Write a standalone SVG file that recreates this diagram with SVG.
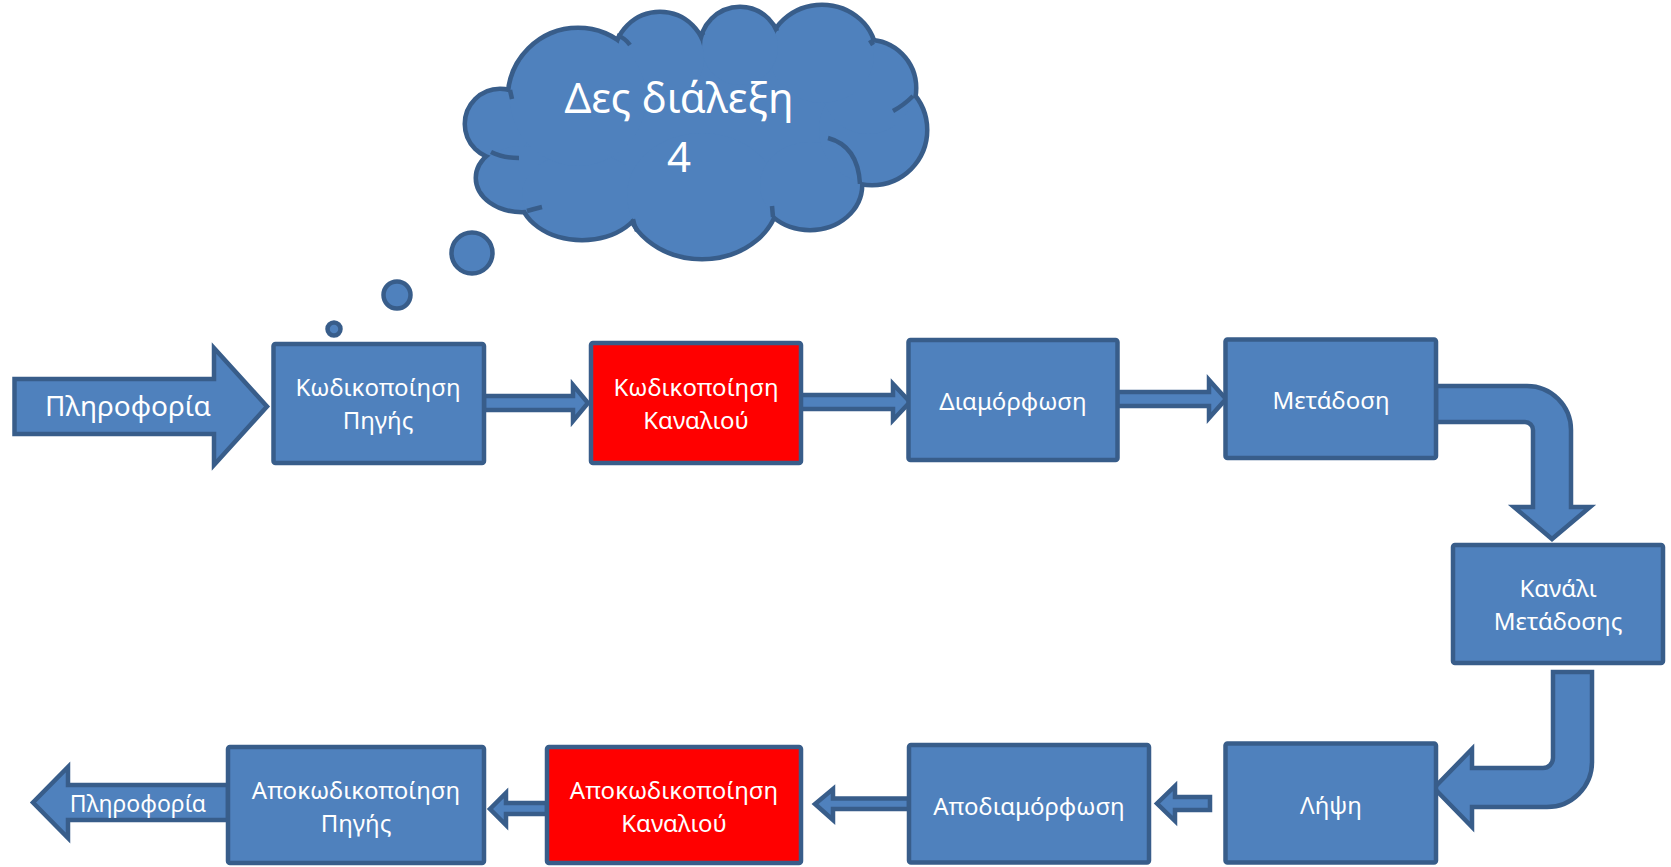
<svg xmlns="http://www.w3.org/2000/svg" width="1671" height="867" viewBox="0 0 1671 867">
<style>
.blk{fill:#4F81BD;stroke:#385D8A;stroke-width:4.5;stroke-linejoin:miter}
.box{fill:#4F81BD;stroke:#385D8A;stroke-width:4.5}
.red{fill:#FF0000;stroke:#385D8A;stroke-width:4.5}
.t{font-family:"Noto Sans","Open Sans","DejaVu Sans",sans-serif;font-size:24px;fill:#FFFFFF;text-anchor:middle}
.cs{fill:#4F81BD;stroke:#385D8A;stroke-width:9}
.cf{fill:#4F81BD}
.seam{fill:none;stroke:#385D8A;stroke-width:4.5;stroke-linecap:butt}
</style>
<rect width="1671" height="867" fill="#FFFFFF"/>

<g id="connectors">
<path class="blk" d="M14.5,379 L214,379 L214,348 L267,406.5 L214,465 L214,434 L14.5,434 Z"/>
<path class="blk" d="M484,396 L573,396 L573,385 L588,403 L573,421 L573,410 L484,410 Z"/>
<path class="blk" d="M800,395 L893,395 L893,384 L910,402 L893,420 L893,409 L800,409 Z"/>
<path class="blk" d="M1117,392 L1209,392 L1209,380 L1226,399 L1209,418 L1209,406 L1117,406 Z"/>
<path class="blk" d="M1436,386 L1527,386 A44,44 0 0 1 1571,430 L1571,507 L1590,507 L1552,539 L1514,507 L1533,507 L1533,430 A8,8 0 0 0 1525,422 L1436,422 Z"/>
<path class="blk" d="M1553,672 L1592,672 L1592,762 A45,45 0 0 1 1547,807 L1472,807 L1472,827 L1434,788 L1472,749 L1472,768 L1543,768 A10,10 0 0 0 1553,758 Z"/>
<path class="blk" d="M1210,797 L1175,797 L1175,786 L1157,803.5 L1175,821 L1175,810 L1210,810 Z"/>
<path class="blk" d="M909,798.5 L833,798.5 L833,789 L815,804 L833,820 L833,809 L909,809 Z"/>
<path class="blk" d="M547,803 L506,803 L506,793 L490,809 L506,825 L506,814 L547,814 Z"/>
<path class="blk" d="M228,785 L68,785 L68,767 L33,802.5 L68,838 L68,820 L228,820 Z"/>
</g>

<g id="in-label"><text class="t" x="128" y="416" style="font-size:28px">Πληροφορία</text></g>
<g id="out-label"><text class="t" x="138" y="812" style="font-size:23px">Πληροφορία</text></g>

<g id="src-enc">
<rect class="box" x="273.5" y="344" width="210.5" height="119" rx="2"/>
<text class="t" x="378" y="396">Κωδικοποίηση</text>
<text class="t" x="378" y="429">Πηγής</text>
</g>
<g id="ch-enc">
<rect class="red" x="591" y="343" width="210" height="120" rx="2"/>
<text class="t" x="696" y="396">Κωδικοποίηση</text>
<text class="t" x="696" y="429">Καναλιού</text>
</g>
<g id="mod">
<rect class="box" x="908.5" y="340" width="209" height="120" rx="2"/>
<text class="t" x="1013" y="410">Διαμόρφωση</text>
</g>
<g id="tx">
<rect class="box" x="1225.5" y="339.5" width="210.5" height="118.5" rx="2"/>
<text class="t" x="1331" y="409">Μετάδοση</text>
</g>
<g id="channel">
<rect class="box" x="1453" y="545" width="210" height="118" rx="2"/>
<text class="t" x="1558" y="597">Κανάλι</text>
<text class="t" x="1558" y="630">Μετάδοσης</text>
</g>
<g id="rx">
<rect class="box" x="1225.5" y="743.5" width="210.5" height="119" rx="2"/>
<text class="t" x="1331" y="814">Λήψη</text>
</g>
<g id="demod">
<rect class="box" x="909" y="745" width="240" height="117.5" rx="2"/>
<text class="t" x="1029" y="815">Αποδιαμόρφωση</text>
</g>
<g id="ch-dec">
<rect class="red" x="547" y="747" width="254" height="116" rx="2"/>
<text class="t" x="674" y="799">Αποκωδικοποίηση</text>
<text class="t" x="674" y="832">Καναλιού</text>
</g>
<g id="src-dec">
<rect class="box" x="228" y="747" width="256" height="116" rx="2"/>
<text class="t" x="356" y="799">Αποκωδικοποίηση</text>
<text class="t" x="356" y="832">Πηγής</text>
</g>

<g id="thought">
<circle cx="472" cy="253" r="20.5" fill="#4F81BD" stroke="#385D8A" stroke-width="4.5"/>
<circle cx="397" cy="295" r="13.5" fill="#4F81BD" stroke="#385D8A" stroke-width="4.5"/>
<circle cx="334" cy="329" r="6.5" fill="#4F81BD" stroke="#385D8A" stroke-width="4.5"/>
</g>

<g id="cloud">
<g class="cs">
<circle cx="500" cy="124" r="33"/>
<ellipse cx="522" cy="178" rx="44" ry="32"/>
<ellipse cx="582" cy="195" rx="60" ry="43"/>
<ellipse cx="702" cy="195" rx="75" ry="62"/>
<ellipse cx="810" cy="185" rx="50" ry="43"/>
<circle cx="872" cy="130" r="53"/>
<circle cx="868" cy="88" r="46"/>
<ellipse cx="822" cy="55" rx="52" ry="48"/>
<circle cx="740" cy="47" r="38"/>
<circle cx="660" cy="58" r="44"/>
<circle cx="578" cy="98" r="68"/>
</g>
<g class="cf">
<ellipse cx="695" cy="135" rx="170" ry="80"/>
<polygon points="500,124 522,178 582,195 702,195 810,185 872,130 868,88 822,55 740,47 660,58 578,98"/>
<circle cx="500" cy="124" r="33"/>
<ellipse cx="522" cy="178" rx="44" ry="32"/>
<ellipse cx="582" cy="195" rx="60" ry="43"/>
<ellipse cx="702" cy="195" rx="75" ry="62"/>
<ellipse cx="810" cy="185" rx="50" ry="43"/>
<circle cx="872" cy="130" r="53"/>
<circle cx="868" cy="88" r="46"/>
<ellipse cx="822" cy="55" rx="52" ry="48"/>
<circle cx="740" cy="47" r="38"/>
<circle cx="660" cy="58" r="44"/>
<circle cx="578" cy="98" r="68"/>
</g>
<path class="seam" d="M510,90 L512,99"/>
<path class="seam" d="M491,152 Q503,158 519,158"/>
<path class="seam" d="M527,211 Q534,209 542,207"/>
<path class="seam" d="M633,219 Q634,225 637,231"/>
<path class="seam" d="M772,206 L773,217"/>
<path class="seam" d="M828,138 Q858,146 860,184"/>
<path class="seam" d="M893,111 Q904,105 913,96"/>
<path class="seam" d="M870,40 L873,45"/>
<path class="seam" d="M775,26 L777,31"/>
<path class="seam" d="M702,31 L703,35"/>
<path class="seam" d="M617,35 Q625,38 630,45"/>
<text class="t" x="679" y="113" style="font-size:42px">Δες διάλεξη</text>
<text class="t" x="679" y="172" style="font-size:42px">4</text>
</g>
</svg>
